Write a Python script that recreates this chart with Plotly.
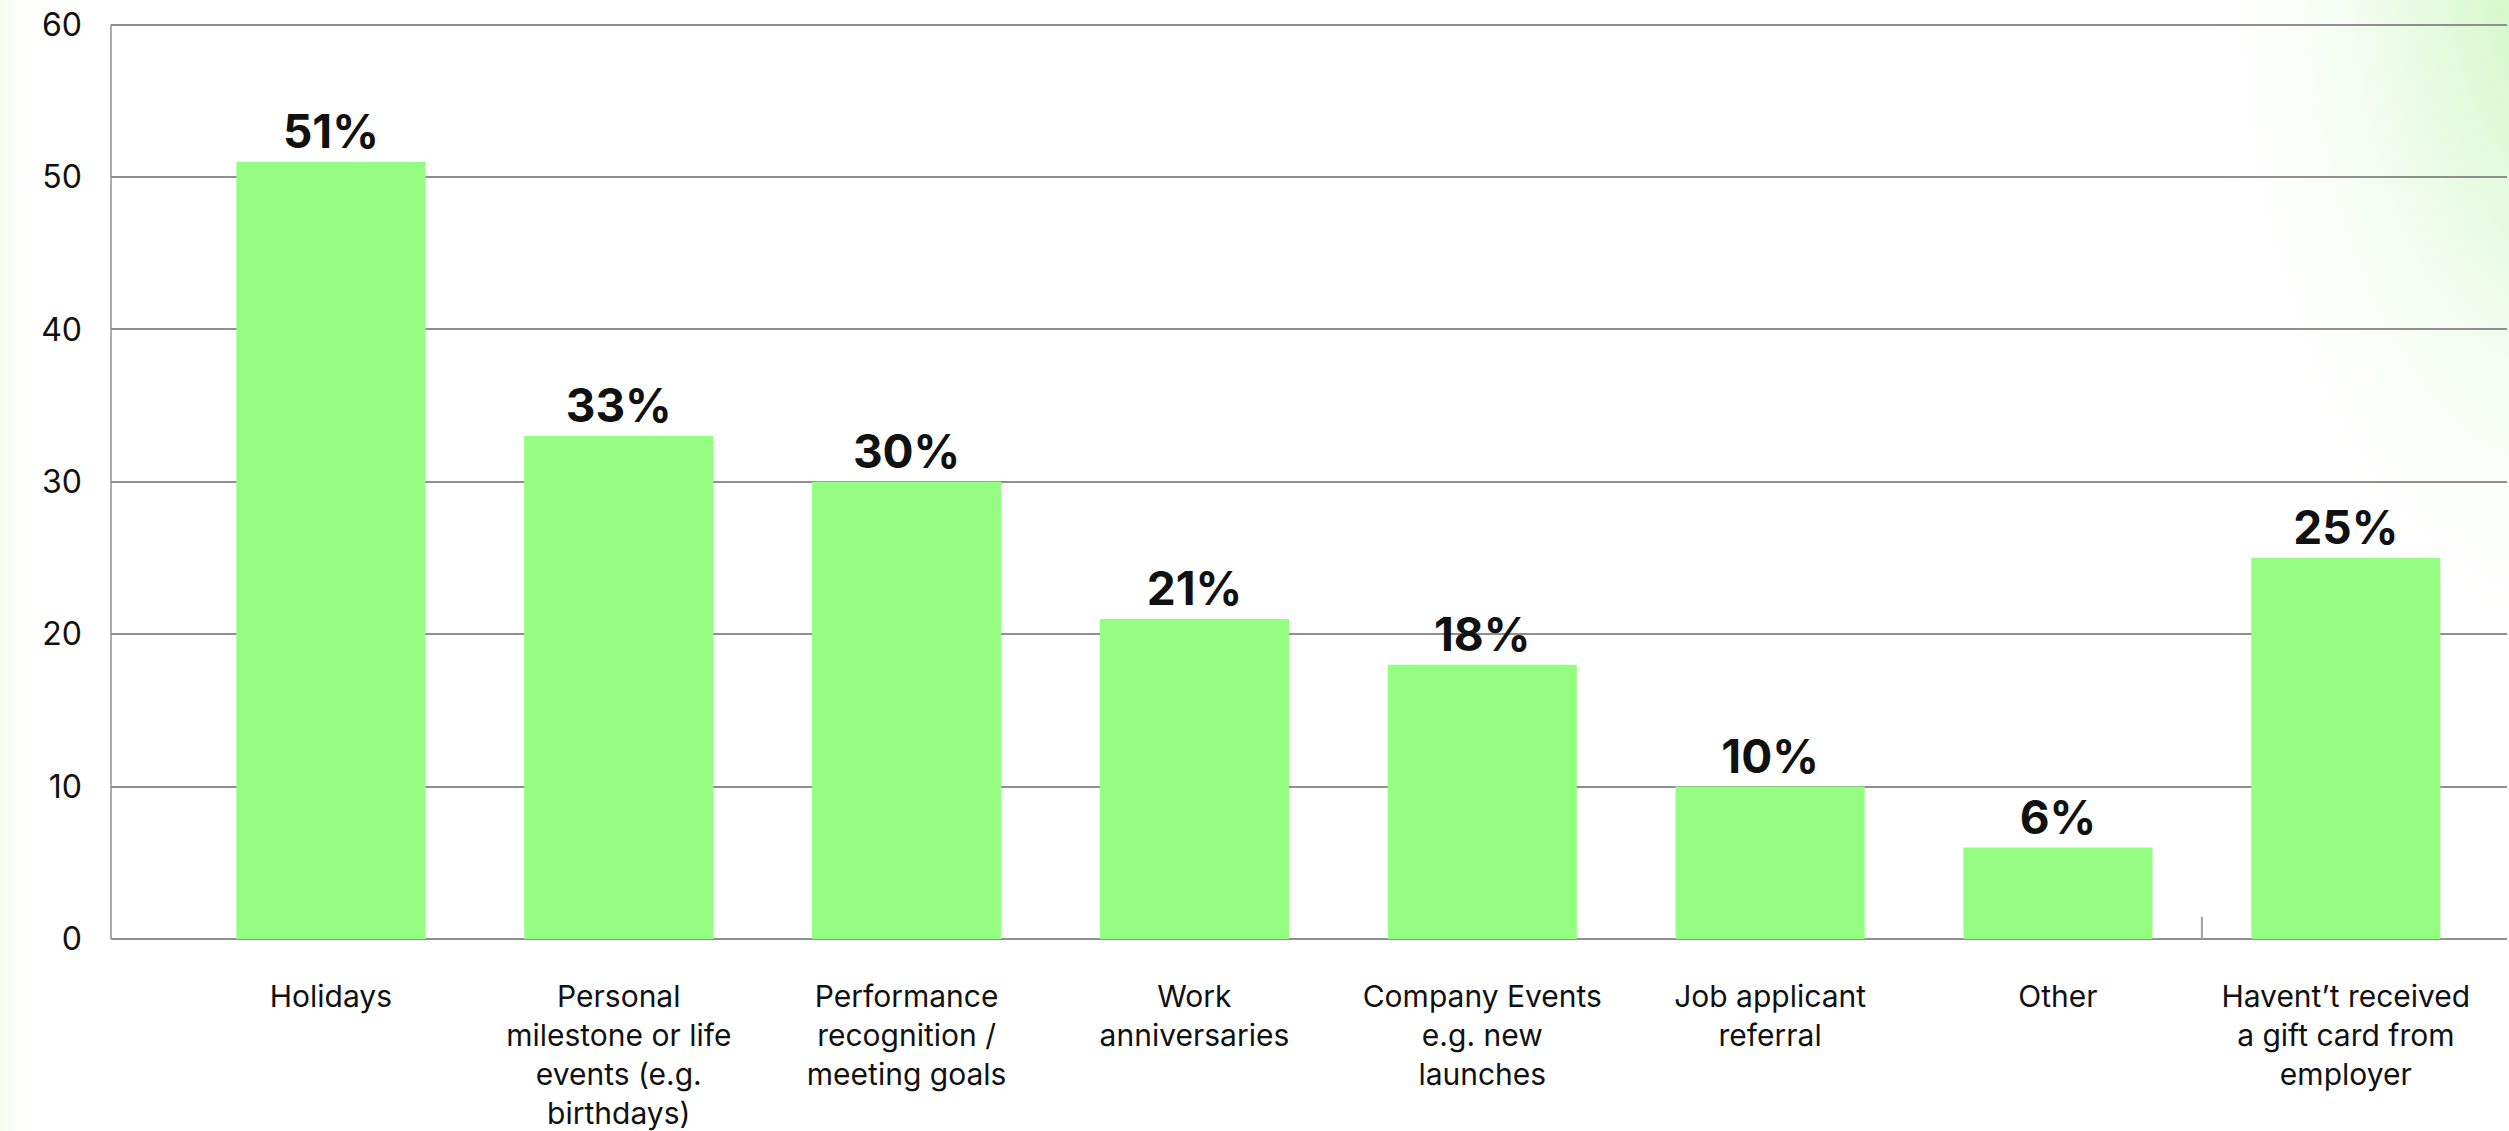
import base64
import plotly.graph_objects as go

# Survey results: occasions on which employees received a gift card
categories = [
    "Holidays",
    "Personal<br>milestone or life<br>events (e.g.<br>birthdays)",
    "Performance<br>recognition /<br>meeting goals",
    "Work<br>anniversaries",
    "Company Events<br>e.g. new<br>launches",
    "Job applicant<br>referral",
    "Other",
    "Havent\u2019t received<br>a gift card from<br>employer",
]
shares = [51, 33, 30, 21, 18, 10, 6, 25]
y_ticks = [0, 10, 20, 30, 40, 50, 60]

W, H = 2509, 1131
BAR = "#95fd81"
GRID = "#8f8f8f"
FONT = "Inter, 'Noto Sans', sans-serif"

# soft green wash in the top-right corner and a faint tint on the left edge
svg = f"""<svg xmlns='http://www.w3.org/2000/svg' width='{W}' height='{H}' viewBox='0 0 {W} {H}' preserveAspectRatio='none'>
<defs>
<radialGradient id='g' cx='{W + 60}' cy='-60' r='640' gradientUnits='userSpaceOnUse' gradientTransform='translate({W + 60} -60) scale(0.6 1.2) rotate(-14) translate({-(W + 60)} 60)'>
<stop offset='0' stop-color='#c8f6bb' stop-opacity='1'/>
<stop offset='0.3' stop-color='#d9f9d0' stop-opacity='0.85'/>
<stop offset='0.65' stop-color='#eefcea' stop-opacity='0.5'/>
<stop offset='1' stop-color='#ffffff' stop-opacity='0'/>
</radialGradient>
<linearGradient id='l' x1='0' y1='0' x2='1' y2='0'>
<stop offset='0' stop-color='#f7faf1' stop-opacity='1'/>
<stop offset='1' stop-color='#ffffff' stop-opacity='0'/>
</linearGradient>
</defs>
<rect width='{W}' height='{H}' fill='#ffffff'/>
<rect width='50' height='{H}' fill='url(#l)'/>
<rect width='{W}' height='{H}' fill='url(#g)'/>
</svg>"""
bg_uri = "data:image/svg+xml;base64," + base64.b64encode(svg.encode()).decode()

fig = go.Figure(
    go.Bar(
        x=list(range(len(categories))),
        y=shares,
        width=0.657,
        marker=dict(color=BAR, line=dict(width=0)),
        text=[f"{v}%" for v in shares],
        textposition="outside",
        cliponaxis=False,
        textfont=dict(family=FONT, size=46, color="#111111", weight="bold"),
        hoverinfo="skip",
    )
)

# short stray tick on the baseline between the last two columns
fig.add_shape(
    type="line", xref="x", yref="y",
    x0=6.5, x1=6.5, y0=0, y1=1.45,
    line=dict(color="#a0a0a0", width=2),
)

fig.update_layout(
    width=W,
    height=H,
    margin=dict(l=0, r=0, t=0, b=0),
    paper_bgcolor="#ffffff",
    plot_bgcolor="rgba(0,0,0,0)",
    showlegend=False,
    images=[dict(
        source=bg_uri, xref="paper", yref="paper",
        x=0, y=1, sizex=1, sizey=1, xanchor="left", yanchor="top",
        sizing="stretch", layer="below",
    )],
    xaxis=dict(
        domain=[111 / W, 2507 / W],
        range=[-0.764, 7.56],
        tickmode="array",
        tickvals=list(range(len(categories))),
        ticktext=categories,
        showgrid=False,
        zeroline=False,
        showline=False,
        ticks="",
        ticklabelstandoff=37,
        tickfont=dict(family=FONT, size=30, color="#111111"),
        automargin=False,
        fixedrange=True,
    ),
    yaxis=dict(
        domain=[(H - 939) / H, (H - 20) / H],
        range=[0, 60.3],
        tickmode="array",
        tickvals=y_ticks,
        showgrid=True,
        gridcolor=GRID,
        gridwidth=1.5,
        zeroline=True,
        zerolinecolor=GRID,
        zerolinewidth=1.5,
        showline=False,
        ticks="",
        ticklabelstandoff=28,
        tickfont=dict(family=FONT, size=32, color="#111111"),
        automargin=False,
        fixedrange=True,
    ),
    font=dict(family=FONT),
)

# left axis spine running from the baseline up to the top gridline
fig.add_shape(
    type="line", xref="x domain", yref="y",
    x0=0, x1=0, y0=0, y1=60,
    line=dict(color=GRID, width=1.5),
)

fig.write_html("out.html", config={"displayModeBar": False})
